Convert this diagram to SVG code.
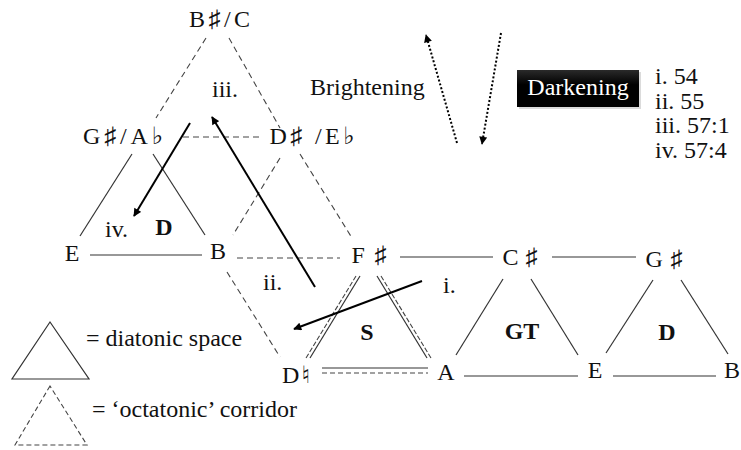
<svg xmlns="http://www.w3.org/2000/svg" width="741" height="450" viewBox="0 0 741 450">
<defs>
<style>
text{font-family:"Liberation Serif","DejaVu Serif",serif;font-size:24px;fill:#111}
.n{text-anchor:middle}
.b{font-weight:bold;text-anchor:middle}
.s{stroke:#333;stroke-width:1.2;fill:none}
.d{stroke:#444;stroke-width:1.1;fill:none;stroke-dasharray:6 4}
.a{stroke:#000;stroke-width:2;fill:none}
.o{stroke:#000;stroke-width:2;fill:none;stroke-dasharray:2 2}
</style>
<marker id="ah" viewBox="0 0 10 10" refX="9" refY="5" markerWidth="9" markerHeight="8" markerUnits="userSpaceOnUse" orient="auto"><path d="M0,0 L10,5 L0,10 z" fill="#000"/></marker>
<linearGradient id="gr" x1="0" y1="0" x2="0" y2="1"><stop offset="0" stop-color="#2a2a2a"/><stop offset="0.4" stop-color="#000"/><stop offset="1" stop-color="#000"/></linearGradient>
</defs>
<rect width="741" height="450" fill="#fff"/>

<g id="connectors">
<line class="d" x1="206" y1="38" x2="156" y2="118"/>
<line class="d" x1="229" y1="38" x2="280" y2="128"/>
<line class="d" x1="183" y1="137" x2="262" y2="137"/>
<line class="d" x1="280" y1="158" x2="233" y2="235"/>
<line class="d" x1="300" y1="154" x2="352" y2="238"/>
<line class="d" x1="237" y1="258" x2="340" y2="258"/>
<line class="d" x1="227" y1="272" x2="280" y2="357"/>
<line class="s" x1="132" y1="154" x2="80" y2="236"/>
<line class="s" x1="153" y1="154" x2="205" y2="235"/>
<line class="s" x1="90" y1="255" x2="202" y2="255"/>
<line class="s" x1="400" y1="257" x2="493" y2="257"/>
<line class="s" x1="552" y1="257" x2="636" y2="257"/>
<line class="s" x1="503" y1="279" x2="456" y2="355"/>
<line class="s" x1="531" y1="279" x2="578" y2="355"/>
<line class="s" x1="464" y1="376" x2="578" y2="376"/>
<line class="s" x1="653" y1="280" x2="606" y2="353"/>
<line class="s" x1="681" y1="280" x2="728" y2="354"/>
<line class="s" x1="613" y1="376" x2="716" y2="376"/>
<line class="d" x1="356" y1="276" x2="306" y2="358" style="stroke-dasharray:5 2"/>
<line class="s" x1="360" y1="276" x2="310" y2="358"/>
<line class="s" x1="377" y1="276" x2="427" y2="358"/>
<line class="d" x1="381" y1="276" x2="431" y2="358" style="stroke-dasharray:5 2"/>
<line class="s" x1="322" y1="368" x2="428" y2="368"/>
<line class="d" x1="322" y1="373" x2="428" y2="373" style="stroke-dasharray:5 3"/>
<line class="a" x1="190" y1="123" x2="134" y2="216" marker-end="url(#ah)"/>
<line class="a" x1="315" y1="287" x2="212" y2="117" marker-end="url(#ah)"/>
<line class="a" x1="422" y1="281" x2="294" y2="329" marker-end="url(#ah)"/>
<line class="o" x1="457" y1="143" x2="426" y2="35" marker-end="url(#ah)"/>
<line class="o" x1="501" y1="33" x2="482" y2="144" marker-end="url(#ah)"/>
</g>

<g id="node-BsC"><text class="n" x="219.5" y="27" textLength="61" lengthAdjust="spacing">B♯/C</text></g>
<g id="node-GsAb"><text class="n" x="123" y="144" textLength="80" lengthAdjust="spacing">G♯/A♭</text></g>
<g id="node-DsEb"><text class="n" x="312" y="144" textLength="85" lengthAdjust="spacing">D♯ /E♭</text></g>
<g id="node-E1"><text class="n" x="72" y="261">E</text></g>
<g id="node-B1"><text class="n" x="218" y="259">B</text></g>
<g id="node-Fs"><text class="n" x="369" y="263" textLength="35" lengthAdjust="spacing">F♯</text></g>
<g id="node-Cs"><text class="n" x="520" y="265" textLength="35" lengthAdjust="spacing">C♯</text></g>
<g id="node-Gs"><text class="n" x="664" y="267" textLength="37" lengthAdjust="spacing">G♯</text></g>
<g id="node-Dn"><text class="n" x="296" y="383" textLength="28" lengthAdjust="spacing">D♮</text></g>
<g id="node-A"><text class="n" x="446" y="380">A</text></g>
<g id="node-E2"><text class="n" x="595" y="378">E</text></g>
<g id="node-B2"><text class="n" x="732" y="378">B</text></g>

<g id="region-labels">
<text class="b" x="164" y="235">D</text>
<text class="b" x="367" y="340">S</text>
<text class="b" x="522" y="339">GT</text>
<text class="b" x="667" y="340">D</text>
<text x="212" y="97">iii.</text>
<text x="105" y="237">iv.</text>
<text x="263" y="290">ii.</text>
<text x="443" y="293">i.</text>
</g>

<g id="brightening"><text x="310" y="95">Brightening</text></g>
<g id="darkening">
<rect x="519" y="72" width="122" height="37" fill="#999" opacity="0.35"/>
<rect x="517" y="70" width="122" height="37" fill="url(#gr)"/>
<text class="n" x="578" y="95" style="fill:#fff">Darkening</text>
</g>

<g id="list">
<text x="655" y="84">i. 54</text>
<text x="655" y="108.5">ii. 55</text>
<text x="655" y="133">iii. 57:1</text>
<text x="655" y="157.5">iv. 57:4</text>
</g>

<g id="legend">
<path class="s" d="M50,322 L12,379 L89,379 Z"/>
<text x="86" y="346">= diatonic space</text>
<path class="d" d="M50,386 L15,445 L87,445 Z" style="stroke-dasharray:5 3"/>
<text x="92" y="417">= ‘octatonic’ corridor</text>
</g>
</svg>
